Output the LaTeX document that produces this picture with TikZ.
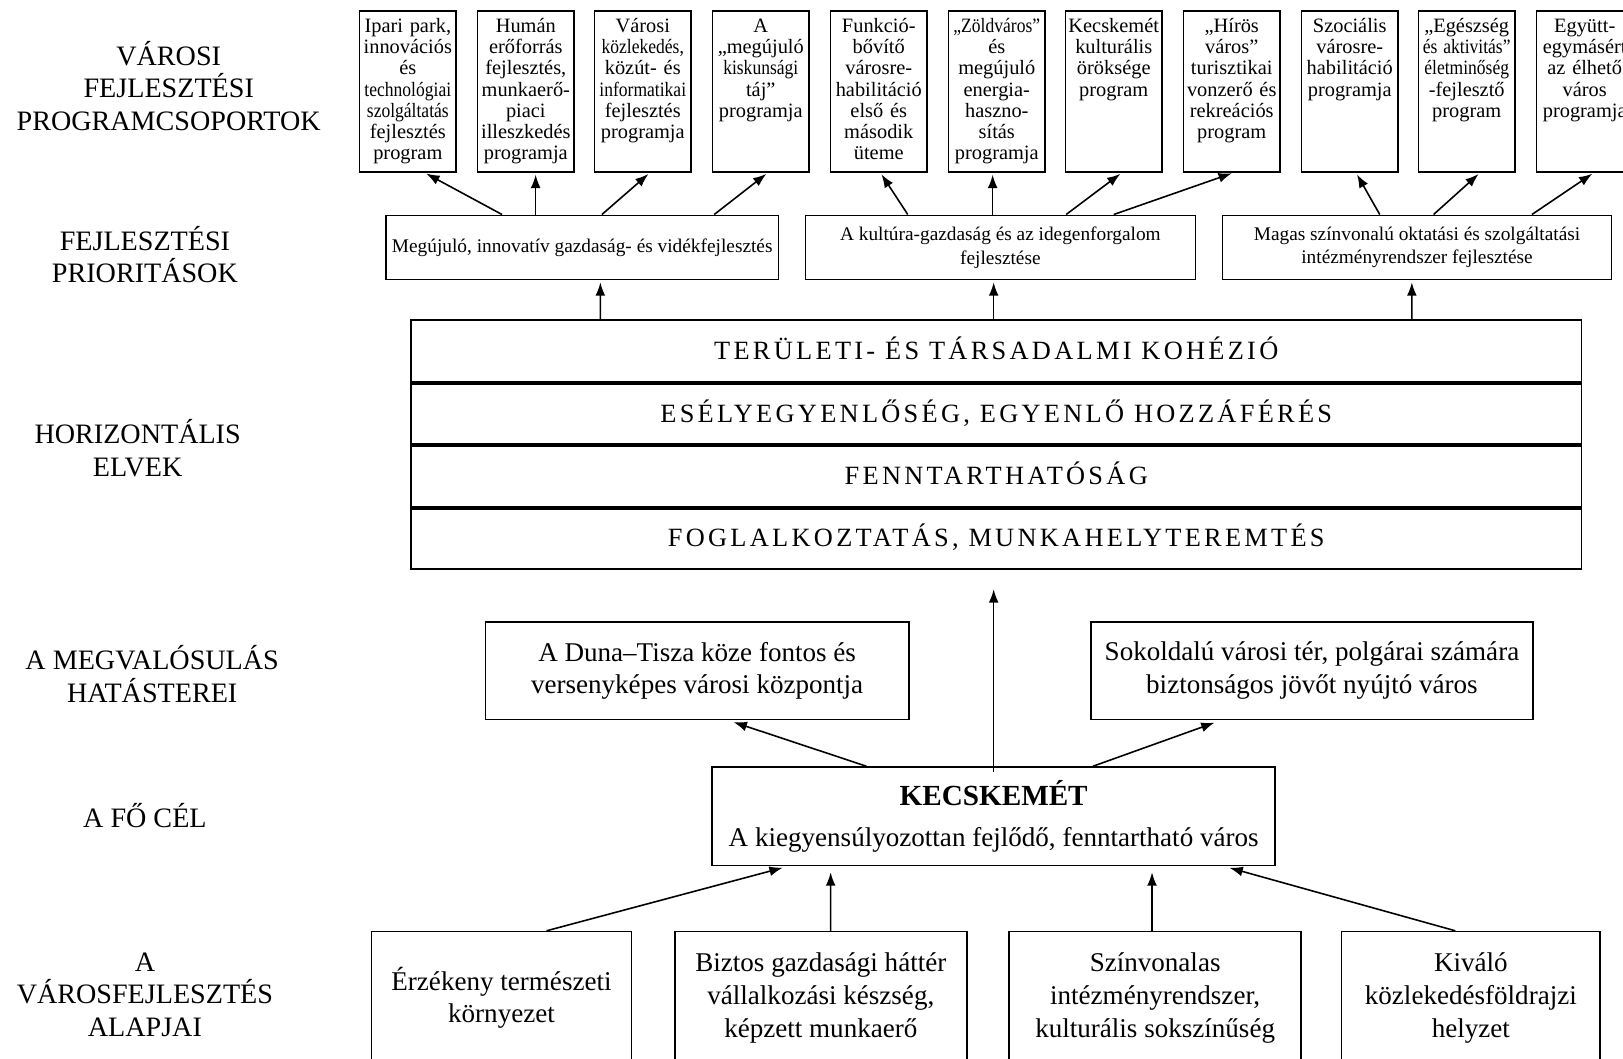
\documentclass[tikz,border=0pt]{standalone}
\usepackage{fontspec}
\setmainfont{Liberation Serif}
\newfontfamily\spacedfont[LetterSpace=12.5]{Liberation Serif}
\usepackage{graphicx}
\usepackage{tikz}
\usetikzlibrary{arrows.meta,positioning}
\newlength{\pxu}\setlength{\pxu}{0.1035mm}
\newcommand{\sq}[1]{\scalebox{0.86}[1]{#1}}

\begin{document}
\begin{tikzpicture}[x=0.1035mm,y=-0.1035mm,
      every node/.style={font=\fontsize{8}{9.3}\selectfont},
      lbl/.style={align=center},
      prog/.style={draw,line width=0.45pt,anchor=north,text width=90\pxu,align=center,inner xsep=0.5pt,inner ysep=2pt,
        text height=4.2pt,text depth=37.5pt,font=\fontsize{5.8}{5.98}\selectfont},
      prio/.style={draw,line width=0.45pt,align=center,minimum height=62\pxu,inner sep=1pt,font=\fontsize{5.5}{6.8}\selectfont},
      bar/.style={draw,line width=0.45pt,minimum width=1131\pxu,minimum height=60\pxu,text height=5.6pt,text depth=0.6pt,
        font=\spacedfont\fontsize{7.5}{9}\selectfont},
      box/.style={draw,line width=0.45pt,align=center,font=\fontsize{7.7}{9.3}\selectfont},
      sep/.style={line width=1.1pt},
      arr/.style={-{Latex[length=3.8pt,width=2.8pt]},line width=0.45pt,shorten >=2\pxu}]
      \path[fill=white,use as bounding box] (0,0) rectangle (1568,1023);
      \node[lbl] (lprog) at (163,83) {VÁROSI\\FEJLESZTÉSI\\PROGRAMCSOPORTOK};
      \node[lbl] (lprio) at (140,246) {FEJLESZTÉSI\\PRIORITÁSOK};
      \node[lbl] (lelv) at (133,433) {HORIZONTÁLIS\\ELVEK};
      \node[lbl] (lhat) at (147,651) {A MEGVALÓSULÁS\\HATÁSTEREI};
      \node[lbl] (lcel) at (140,788) {A FŐ CÉL};
      \node[lbl] (lalap) at (140,961) {A\\VÁROSFEJLESZTÉS\\ALAPJAI};
      \node[prog] (t1) at (394,10) {Ipari park,\\innovációs\\és\\\sq{technológiai}\\\sq{szolgáltatás}\\fejlesztés\\program};
      \node[prog] (t2) at (508,10) {Humán\\erőforrás\\fejlesztés,\\munkaerő-\\piaci\\illeszkedés\\programja};
      \node[prog] (t3) at (621,10) {Városi\\\sq{közlekedés,}\\közút- és\\\sq{informatikai}\\fejlesztés\\programja};
      \node[prog] (t4) at (735,10) {A\\„megújuló\\\sq{kiskunsági}\\táj”\\programja};
      \node[prog] (t5) at (849,10) {Funkció-\\bővítő\\városre-\\habilitáció\\első és\\második\\üteme};
      \node[prog] (t6) at (963,10) {\sq{„Zöldváros”}\\és\\megújuló\\energia-\\haszno-\\sítás\\programja};
      \node[prog] (t7) at (1076,10) {Kecskemét\\kulturális\\öröksége\\program};
      \node[prog] (t8) at (1190,10) {„Hírös\\város”\\turisztikai\\vonzerő és\\rekreációs\\program};
      \node[prog] (t9) at (1304,10) {Szociális\\városre-\\habilitáció\\programja};
      \node[prog] (t10) at (1417,10) {„Egészség\\\sq{és aktivitás”}\\\sq{életminőség}\\-fejlesztő\\program};
      \node[prog] (t11) at (1531,10) {Együtt-\\egymásért\\az élhető\\város\\programja};
      \node[prio,minimum width=379\pxu] (p1) at (562.5,239) {Megújuló, innovatív gazdaság- és vidékfejlesztés};
      \node[prio,minimum width=377\pxu] (p2) at (966.5,239) {A kultúra-gazdaság és az idegenforgalom\\fejlesztése};
      \node[prio,minimum width=376\pxu] (p3) at (1369,239) {Magas színvonalú oktatási és szolgáltatási\\intézményrendszer fejlesztése};
      \node[bar] (b1) at (962.5,339) {TERÜLETI- ÉS TÁRSADALMI KOHÉZIÓ};
      \node[bar] (b2) at (962.5,399.5) {ESÉLYEGYENLŐSÉG, EGYENLŐ HOZZÁFÉRÉS};
      \node[bar] (b3) at (962.5,460) {FENNTARTHATÓSÁG};
      \node[bar] (b4) at (962.5,519.5) {FOGLALKOZTATÁS, MUNKAHELYTEREMTÉS};
      \draw[sep] (b1.south west) -- (b1.south east);
      \draw[sep] (b2.south west) -- (b2.south east);
      \draw[sep] (b3.south west) -- (b3.south east);
      \node[box,minimum width=409\pxu,minimum height=94\pxu] (hl) at (673.5,648) {A Duna–Tisza köze fontos és\\versenyképes városi központja};
      \node[box,minimum width=427\pxu,minimum height=94\pxu] (hr) at (1267.5,648) {Sokoldalú városi tér, polgárai számára\\biztonságos jövőt nyújtó város};
      \node[box,minimum width=544\pxu,minimum height=95\pxu] (kec) at (960,788.5) {{\bfseries\fontsize{8.3}{9.3}\selectfont KECSKEMÉT}\\[2.4pt]A kiegyensúlyozottan fejlődő, fenntartható város};
      \node[box,minimum width=251\pxu,minimum height=128\pxu] (a1) at (484.5,964) {Érzékeny természeti\\környezet};
      \node[box,minimum width=282\pxu,minimum height=128\pxu] (a2) at (793,964) {Biztos gazdasági háttér\\vállalkozási készség,\\képzett munkaerő};
      \node[box,minimum width=282\pxu,minimum height=128\pxu] (a3) at (1116,964) {Színvonalas\\intézményrendszer,\\kulturális sokszínűség};
      \node[box,minimum width=250\pxu,minimum height=128\pxu] (a4) at (1421,964) {Kiváló\\közlekedésföldrajzi\\helyzet};
      \draw[arr] ([xshift=-77.5\pxu]p1.north) -- ([xshift=16\pxu]t1.south);
      \draw[arr] ([xshift=-45\pxu]p1.north) -- ([xshift=9.5\pxu]t2.south);
      \draw[arr] ([xshift=19\pxu]p1.north) -- ([xshift=7\pxu]t3.south);
      \draw[arr] ([xshift=127.5\pxu]p1.north) -- ([xshift=7\pxu]t4.south);
      \draw[arr] ([xshift=-89.5\pxu]p2.north) -- ([xshift=1.5\pxu]t5.south);
      \draw[arr] ([xshift=-7.5\pxu]p2.north) -- ([xshift=-4\pxu]t6.south);
      \draw[arr] ([xshift=63.5\pxu]p2.north) -- ([xshift=8\pxu]t7.south);
      \draw[arr] ([xshift=109.5\pxu]p2.north) -- ([xshift=2\pxu]t8.south);
      \draw[arr] ([xshift=-36\pxu]p3.north) -- ([xshift=6\pxu]t9.south);
      \draw[arr] ([xshift=16\pxu]p3.north) -- ([xshift=13\pxu]t10.south);
      \draw[arr] ([xshift=111\pxu]p3.north) -- ([xshift=9\pxu]t11.south);
      \draw[arr] ([xshift=-382.5\pxu]b1.north) -- ([xshift=17.5\pxu]p1.south);
      \draw[arr] ([xshift=-2.5\pxu]b1.north) -- ([xshift=-6.5\pxu]p2.south);
      \draw[arr] ([xshift=401.5\pxu]b1.north) -- ([xshift=-5\pxu]p3.south);
      \draw[arr,shorten <=-6\pxu,shorten >=19\pxu] (kec.north) -- (kec.north |- b4.south);
      \draw[arr,shorten >=6\pxu] ([xshift=-123\pxu]kec.north) -- ([xshift=29.5\pxu]hl.south);
      \draw[arr,shorten >=7\pxu] ([xshift=96\pxu]kec.north) -- ([xshift=-87.5\pxu]hr.south);
      \draw[arr,shorten >=6\pxu] ([xshift=43.5\pxu]a1.north) -- ([xshift=-198\pxu]kec.south);
      \draw[arr,shorten >=6\pxu] ([xshift=9.5\pxu]a2.north) -- ([xshift=-157.5\pxu]kec.south);
      \draw[arr,shorten >=6\pxu] ([xshift=-3\pxu]a3.north) -- ([xshift=153\pxu]kec.south);
      \draw[arr,shorten >=6\pxu] ([xshift=-15\pxu]a4.north) -- ([xshift=222\pxu]kec.south);
\end{tikzpicture}
\end{document}
